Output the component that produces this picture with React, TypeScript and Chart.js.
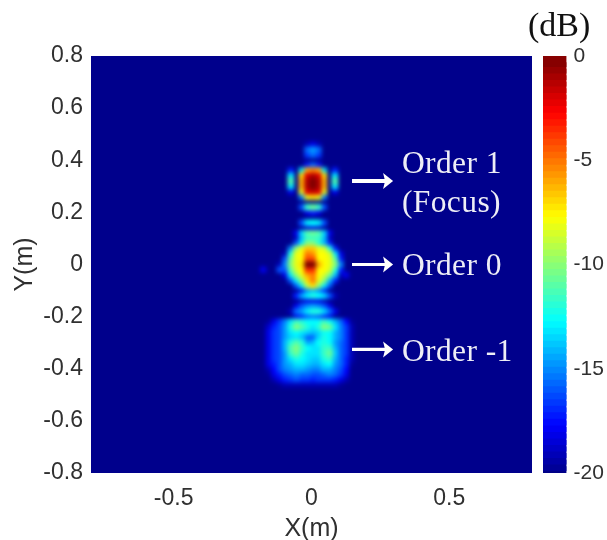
import React, { useEffect, useRef } from "react";
import { Chart, registerables } from "chart.js";

Chart.register(...registerables);

const o = -20;
const xCols = [-0.195, -0.175, -0.155, -0.135, -0.115, -0.095, -0.075, -0.055, -0.035, -0.015, 0.005, 0.025, 0.045, 0.065, 0.085, 0.105, 0.125, 0.145, 0.165, 0.185, 0.205];
const yRows = [0.46, 0.44, 0.42, 0.40, 0.38, 0.36, 0.34, 0.32, 0.30, 0.28, 0.26, 0.24, 0.22, 0.20, 0.18, 0.16, 0.14, 0.12, 0.10, 0.08, 0.06, 0.04, 0.02, 0, -0.02, -0.04, -0.06, -0.08, -0.10, -0.12, -0.14, -0.16, -0.18, -0.20, -0.22, -0.24, -0.26, -0.28, -0.30, -0.32, -0.34, -0.36, -0.38, -0.40, -0.42, -0.44, -0.46];
const dbGrid = [
  [o,o,o,o,o,o,o,o,o,-19,-18,-19,o,o,o,o,o,o,o,o,o],
  [o,o,o,o,o,o,o,o,o,-15.5,-14.5,-15.5,o,o,o,o,o,o,o,o,o],
  [o,o,o,o,o,o,o,o,o,-16.5,-15.5,-16.5,o,o,o,o,o,o,o,o,o],
  [o,o,o,o,o,o,o,o,o,o,o,o,o,o,o,o,o,o,o,o,o],
  [o,o,o,o,o,o,o,o,o,-17,-15.5,-17,o,o,o,o,o,o,o,o,o],
  [o,o,o,o,o,o,-17,o,-13,-6,-5,-6,-13,o,-17,o,o,o,o,o,o],
  [o,o,o,o,o,o,-13,o,-7,-2,-1,-2,-7,o,-13,o,o,o,o,o,o],
  [o,o,o,o,o,o,-11,o,-6,-1,0,-1,-6,o,-11,o,o,o,o,o,o],
  [o,o,o,o,o,o,-13,o,-6,-1,0,-1,-6,o,-13,o,o,o,o,o,o],
  [o,o,o,o,o,o,-18,o,-8,-2,-1.5,-2,-8,o,-18,o,o,o,o,o,o],
  [o,o,o,o,o,o,o,o,-15,-8,-7,-8,-15,o,o,o,o,o,o,o,o],
  [o,o,o,o,o,o,o,o,o,o,o,o,o,o,o,o,o,o,o,o,o],
  [o,o,o,o,o,o,o,o,-16,-11.5,-10.5,-11.5,-16,o,o,o,o,o,o,o,o],
  [o,o,o,o,o,o,o,o,o,-18,-17,-18,o,o,o,o,o,o,o,o,o],
  [o,o,o,o,o,o,o,o,o,o,o,o,o,o,o,o,o,o,o,o,o],
  [o,o,o,o,o,o,o,o,-16,-13,-12.5,-13,-16,o,o,o,o,o,o,o,o],
  [o,o,o,o,o,o,o,o,-19.5,-18.5,-18,-18.5,-19.5,o,o,o,o,o,o,o,o],
  [o,o,o,o,o,o,o,-18,-13.5,-11,-10.5,-11,-13.5,-18,o,o,o,o,o,o,o],
  [o,o,o,o,o,o,o,-19,-14,-11.5,-11.5,-11.5,-14,-19,o,o,o,o,o,o,o],
  [o,o,o,o,o,o,o,-16,-13,-10,-10,-12,-14,-17,o,o,o,o,o,o,o],
  [o,o,o,o,o,o,-15,-10,-8,-6.5,-6.5,-8,-8.5,-12,-17,o,o,o,o,o,o],
  [o,o,o,o,o,-19,-12,-8,-7.5,-5,-5.5,-7.5,-7.5,-8.5,-13,-18,o,o,o,o,o],
  [o,o,o,o,o,-16,-10.5,-8,-7.5,-4,-4,-7.5,-7.5,-8,-11,-17,o,o,o,o,o],
  [o,o,o,o,-19,-15,-10,-8,-7,0,0,-6,-7.5,-8,-10,-15,o,o,o,o,o],
  [o,-18,o,o,-16,-16,-11,-8.5,-7.5,-3.5,-3.5,-7.5,-7.5,-8.5,-12,-17,o,o,o,o,o],
  [o,o,o,o,o,-18,-13,-10,-8,-6,-5,-7.5,-8.5,-10.5,-14,-19,-18,o,o,o,o],
  [o,o,o,o,o,o,-16,-13,-10,-7,-5,-8,-10,-14,-17,o,o,o,o,o,o],
  [o,o,o,o,o,o,o,-16,-13,-9,-7,-10,-13,-16,o,o,o,o,o,o,o],
  [o,o,o,o,o,o,o,o,-18,-15,-14,-15,-17,o,o,o,o,o,o,o,o],
  [o,o,o,o,o,o,o,-17,-14.5,-13,-12,-12.5,-13.5,-16,-19,o,o,o,o,o,o],
  [o,o,o,o,o,o,o,o,-19,-18,-18,-18,-19,o,o,o,o,o,o,o,o],
  [o,o,o,o,o,o,o,-18,-16,-15,-14.5,-15,-16,-18,o,o,o,o,o,o,o],
  [o,o,o,o,o,o,-19,-15.5,-14.5,-13,-12,-12,-13.5,-15.5,-18,o,o,o,o,o,o],
  [o,o,o,o,o,o,o,-18,-17,-16,-15.5,-16,-17,-18,o,o,o,o,o,o,o],
  [o,o,-19.5,-18,-16.5,-15,-13,-11.5,-12,-12.5,-12.5,-12.5,-11.5,-12.5,-14,-15.5,-17.5,-19.5,o,o,o],
  [o,o,-18.5,-17,-16,-14.5,-12,-10,-11,-12,-13,-12,-10,-10.5,-13,-15,-16.5,-19,o,o,o],
  [o,o,-18,-16.5,-16,-14.5,-13,-12.5,-13,-13.5,-14,-13.5,-12.5,-12.5,-14,-15,-16.5,-19,o,o,o],
  [o,o,-18,-16.5,-16,-14.5,-13.5,-13,-14,-16,-16,-13.5,-12,-12.5,-14,-15,-16.5,-19,o,o,o],
  [o,o,-18,-16.5,-16,-14,-12,-11,-12,-14.5,-14,-12.5,-12,-12.5,-14.5,-15.5,-16.5,-19,o,o,o],
  [o,o,-18,-16.5,-16,-14,-11,-10,-11.5,-12.5,-13,-13,-11.5,-11.5,-14,-15.5,-16.5,-19,o,o,o],
  [o,o,-18,-16.5,-16,-14.5,-11.5,-10.5,-12,-13,-13,-13,-11.5,-10.5,-13.5,-15.5,-16.5,-19,o,o,o],
  [o,o,-18,-16.5,-16,-14.5,-13,-12,-12.5,-13,-13.5,-13.5,-12,-11.5,-14,-15.5,-17,-19,o,o,o],
  [o,o,-18,-17,-16,-14.5,-14,-13,-13,-13.5,-14,-14,-13,-12.5,-14.5,-15.5,-17,-19.5,o,o,o],
  [o,o,-19,-17.5,-16,-15,-14.5,-14,-14,-14.5,-15,-15,-14,-14,-15,-16,-17.5,o,o,o,o],
  [o,o,-19.5,-18,-17,-16,-15.5,-15,-15.5,-15.5,-16,-16,-15.5,-15,-15.5,-16.5,-18,o,o,o,o],
  [o,o,o,-19,-18,-17,-16.5,-16,-16.5,-16.5,-17,-16.5,-16.5,-16.5,-17,-18,-19,o,o,o,o],
  [o,o,o,o,-19.5,-19,-19,-19,-19,-19,-19,-19,-19,-19,-19,-19.5,o,o,o,o,o],
];
const xTickValues = [-0.5, 0, 0.5];
const colorTicks = [0, -5, -10, -15, -20];
const arrowRows = [0.32, 0, -0.326];
const arrowFrom = 0.147;
const arrowTo = 0.296;
const labelX = 0.328;
const labelTexts = ["Order 1", "(Focus)", "Order 0", "Order -1"];
const labelYs = [0.352, 0.2026, -0.04, -0.369];

const sans = "'Liberation Sans', Arial, sans-serif";
const serif = "'Liberation Serif', 'Times New Roman', serif";
const tickColor = "#303030";

function jet(db: number) {
  const t = Math.max(0, Math.min(1, (db + 20) / 20));
  const ch = (c: number) => Math.round(255 * Math.max(0, Math.min(1, c)));
  const r = 1.5 - Math.abs(4 * t - 3);
  const g = 1.5 - Math.abs(4 * t - 2);
  const b = 1.5 - Math.abs(4 * t - 1);
  return `rgb(${ch(r)},${ch(g)},${ch(b)})`;
}

const cells = yRows
  .flatMap((y, r) => xCols.map((x, c) => ({ x, y, v: dbGrid[r][c] })))
  .filter((p) => p.v > -20)
  .sort((a, b) => a.v - b.v);

const heatBackground = {
  id: "heatBackground",
  beforeDatasetsDraw(chart: any) {
    const { ctx, chartArea: a } = chart;
    ctx.save();
    ctx.fillStyle = "rgb(0,0,140)";
    ctx.fillRect(a.left, a.top, a.width, a.height);
    ctx.restore();
  },
};

const smoothAndLabel = {
  id: "smoothAndLabel",
  afterDatasetsDraw(chart: any) {
    const { ctx, chartArea: a, scales } = chart;
    const sx = scales.x;
    const sy = scales.y;
    ctx.save();
    ctx.beginPath();
    ctx.rect(a.left, a.top, a.width, a.height);
    ctx.clip();
    ctx.filter = "blur(2px)";
    ctx.drawImage(chart.canvas, a.left, a.top, a.width, a.height, a.left, a.top, a.width, a.height);
    ctx.filter = "none";
    ctx.strokeStyle = "#ffffff";
    arrowRows.forEach((v, i) => {
      const y = sy.getPixelForValue(v);
      const x0 = sx.getPixelForValue(arrowFrom);
      const x1 = sx.getPixelForValue(arrowTo);
      ctx.lineWidth = i === 0 ? 4 : 3.2;
      ctx.beginPath();
      ctx.moveTo(x0, y);
      ctx.lineTo(x1 - 8, y);
      ctx.stroke();
      ctx.beginPath();
      ctx.moveTo(x1, y);
      ctx.lineTo(x1 - 10, y - 8);
      ctx.lineTo(x1 - 8, y);
      ctx.lineTo(x1 - 10, y + 8);
      ctx.closePath();
      ctx.fillStyle = "#ffffff";
      ctx.fill();
    });
    ctx.fillStyle = "#eeeef6";
    ctx.font = `31.5px ${serif}`;
    ctx.letterSpacing = "0.4px";
    ctx.textAlign = "left";
    ctx.textBaseline = "alphabetic";
    labelTexts.forEach((t, i) => {
      ctx.fillText(t, sx.getPixelForValue(labelX), sy.getPixelForValue(labelYs[i]));
    });
    ctx.restore();
  },
};

const unitLabel = {
  id: "unitLabel",
  afterDraw(chart: any) {
    const { ctx } = chart;
    ctx.save();
    ctx.fillStyle = "#111111";
    ctx.font = `34px ${serif}`;
    ctx.textAlign = "left";
    ctx.textBaseline = "alphabetic";
    ctx.fillText("(dB)", 528, 36);
    ctx.restore();
  },
};

const levels = Array.from({ length: 64 }, (_, i) => -20 + (20 * (63 - i)) / 64);

export default function App() {
  const mainRef = useRef<HTMLCanvasElement>(null);
  const barRef = useRef<HTMLCanvasElement>(null);

  useEffect(() => {
    const main = new Chart(mainRef.current!, {
      type: "scatter",
      data: {
        datasets: [
          {
            data: cells as any,
            pointStyle: "rect",
            pointRadius: 4.6,
            pointBorderWidth: 0,
            borderWidth: 0,
            backgroundColor: cells.map((p) => jet(p.v)),
          },
        ],
      },
      options: {
        responsive: false,
        animation: false,
        events: [],
        layout: { padding: { left: 0, top: 56, right: 75, bottom: 0 } },
        plugins: { legend: { display: false }, tooltip: { enabled: false } },
        scales: {
          x: {
            type: "linear",
            min: -0.8,
            max: 0.8,
            grid: { display: false, drawTicks: false },
            border: { display: false },
            afterBuildTicks(s: any) {
              s.ticks = xTickValues.map((value) => ({ value }));
            },
            afterFit(s: any) {
              s.height = 67;
            },
            ticks: {
              color: tickColor,
              padding: 12,
              maxRotation: 0,
              font: { family: sans, size: 23 },
              callback: (v: any) => String(v),
            },
            title: {
              display: true,
              text: "X(m)",
              color: tickColor,
              font: { family: sans, size: 25, lineHeight: 0.9 },
              padding: { top: 0, bottom: 0 },
            },
          },
          y: {
            type: "linear",
            min: -0.8,
            max: 0.8,
            grid: { display: false, drawTicks: false },
            border: { display: false },
            afterFit(s: any) {
              s.width = 91;
            },
            ticks: {
              stepSize: 0.2,
              color: tickColor,
              padding: 8,
              font: { family: sans, size: 23 },
              callback: (v: any) => String(Math.round(Number(v) * 10) / 10),
            },
            title: {
              display: true,
              text: "Y(m)",
              color: tickColor,
              font: { family: sans, size: 25 },
              padding: { top: 10, bottom: 0 },
            },
          },
        },
      },
      plugins: [heatBackground, smoothAndLabel],
    });

    const bar = new Chart(barRef.current!, {
      type: "bar",
      data: {
        labels: ["dB"],
        datasets: levels.map((lo) => ({
          data: [[lo - 0.2, lo + 20 / 64]] as any,
          backgroundColor: jet(lo + 10 / 64),
          borderWidth: 0,
          barPercentage: 1,
          categoryPercentage: 1,
        })),
      },
      options: {
        responsive: false,
        animation: false,
        events: [],
        layout: { padding: { left: 543, top: 56, right: 0, bottom: 67 } },
        plugins: { legend: { display: false }, tooltip: { enabled: false } },
        scales: {
          x: { display: false, stacked: true },
          y: {
            type: "linear",
            position: "right",
            min: -20,
            max: 0,
            grid: { display: false, drawTicks: false },
            border: { display: false },
            afterBuildTicks(s: any) {
              s.ticks = colorTicks.map((value) => ({ value }));
            },
            afterFit(s: any) {
              s.width = 40.5;
            },
            ticks: {
              color: tickColor,
              padding: 7,
              font: { family: sans, size: 21 },
              callback: (v: any) => String(v),
            },
          },
        },
      },
      plugins: [unitLabel],
    });

    return () => {
      main.destroy();
      bar.destroy();
    };
  }, []);

  return (
    <div style={{ position: "absolute", left: 0, top: 0, width: 607, height: 540, background: "#fff", overflow: "hidden" }}>
      <canvas ref={mainRef} width={607} height={540} style={{ position: "absolute", left: 0, top: 0 }} />
      <canvas ref={barRef} width={607} height={540} style={{ position: "absolute", left: 0, top: 0 }} />
    </div>
  );
}
